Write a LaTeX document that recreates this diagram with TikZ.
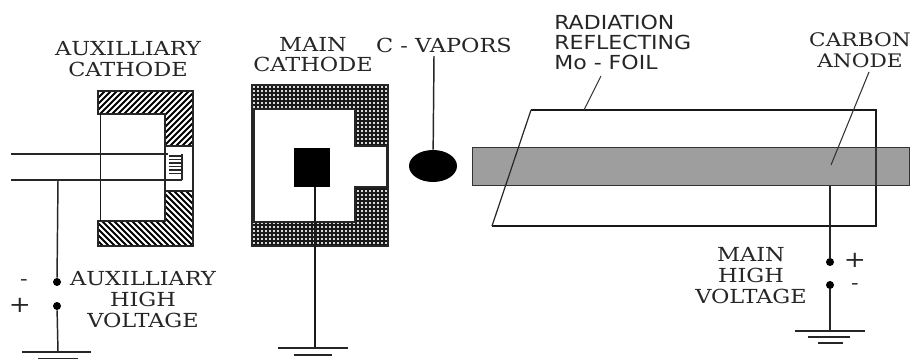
\documentclass[tikz,border=0pt]{standalone}
\usetikzlibrary{shapes.geometric}
\usepackage{fontspec}
\setmainfont[FakeStretch=1.16]{DejaVu Serif}
\newfontfamily\labelsans[FakeStretch=1.14]{DejaVu Sans}
\begin{document}
\begin{tikzpicture}[x=0.75pt,y=-0.75pt,
  wire/.style={line width=1.1pt,black!85},
  thinwire/.style={line width=0.8pt,black!80},
  lab/.style={font=\fontsize{14.5}{15.8}\selectfont,align=center,inner sep=0pt,text=black!85},
  sanslab/.style={font=\labelsans\fontsize{14.5}{15}\selectfont,align=left,inner sep=0pt,text=black!85},
  dot/.style={circle,fill=black,inner sep=0pt,minimum size=6pt}]
\useasboundingbox (0,0) rectangle (911,360);
\fill[white] (0,0) rectangle (911,360);
% auxiliary cathode hatch
\begin{scope}
\clip (98,91) -| (193,146) -| (165,114) -| (98,91) -- cycle;
\foreach \i in {40,46,...,200} \draw[line width=1.5pt] (\i,150) -- (\i+70,80);
\end{scope}
\begin{scope}
\clip (98,221) -| (165,191) -| (193,246) -| (98,221) -- cycle;
\foreach \i in {30,36,...,200} \draw[line width=1.5pt] (\i,185) -- (\i+65,250);
\end{scope}
\draw[wire] (98,91) -| (193,246) -| (98,221) -| (165,114) -| (98,91) -- cycle;
\draw[wire] (165,146) -- (193,146) (165,191) -- (193,191) (165,114) -- (165,221);
\draw[line width=1.4pt,black!90] (100.5,114) -- (100.5,221);
% filament
\foreach \y in {156,159.5,...,174} \draw[line width=1.1pt,black!85] (169,\y) -- (182,\y);
\draw[line width=1pt,black!85] (182,154) -- (182,180);
% auxiliary wires
\coordinate (w1a) at (11,154); \coordinate (w1b) at (168,154);
\coordinate (w2a) at (11,180); \coordinate (w2b) at (182,180);
\draw[wire] (w1a) -- (w1b) (w2a) -- (w2b);
\node[dot] (auxm) at (57,282) {};
\node[dot] (auxp) at (57,306) {};
\coordinate (auxtop) at (58,180);
\coordinate (auxgnd) at (58,352);
\draw[wire] (auxtop) -- (auxm);
\draw[wire] (auxp) -- (auxgnd);
\draw[wire] (22,352) -- (91,352);
\draw[wire] (38,358.5) -- (78,358.5);
\node[lab] (lminus) at (24,283) {-};
\node[lab,font=\fontsize{17}{17}\selectfont] (lplus) at (20,305) {+};
\node[lab] (auxlab) at (128,59) {AUXILLIARY\\CATHODE};
\node[lab] (auxhv) at (143,300) {AUXILLIARY\\HIGH\\VOLTAGE};
% main cathode
\fill[black!90] (252,85) rectangle (388,246);
\begin{scope}
\clip (252,85) rectangle (388,246);
\foreach \x in {254,258,...,386} \foreach \y in {87,91,...,245}
  \fill[white!85!black] (\x-0.8,\y-0.8) rectangle (\x+0.8,\y+0.8);
\end{scope}
\draw[wire] (252,85) rectangle (388,246);
\filldraw[fill=white,draw=black!85,line width=0.8pt] (254,109) rectangle (355,222);
\filldraw[fill=white,draw=black!85,line width=0.8pt] (355,146) rectangle (387,187);
\fill[white] (353,147) rectangle (356,186);
\fill[black] (294,148) rectangle (330,187);
\coordinate (mtop) at (315,187);
\coordinate (mgnd) at (315,348);
\draw[line width=1.3pt,black!90] (mtop) -- (mgnd);
\draw[wire] (278,348) -- (348,348);
\draw[wire] (294,355) -- (332,355);
\node[lab] (mainlab) at (313,45) {MAIN};
\node[lab] (mainlab2) at (313,64) {CATHODE};
% vapors
\node[ellipse,fill=black,inner sep=0pt,minimum width=36pt,minimum height=24pt] (vap) at (433,166) {};
\node[lab] (vaplab) at (444,45) {C - VAPORS};
\draw[wire] (434,56) -- (vap);
% anode
\node[draw=black!80,fill=black!38,line width=0.7pt,minimum width=328pt,minimum height=29pt,inner sep=0pt] (anode) at (691,166.5) {};
% foil
\draw[line width=1.4pt,black!90] (531,110) -- (876,110) -- (876,226) -- (492,226);
\draw[line width=0.9pt,black!80] (876,147) -- (876,186);
\draw[line width=0.9pt,black!85] (492,226) -- (531,110);
\coordinate (foilA) at (601,76); \coordinate (foilB) at (584,110);
\draw[thinwire] (foilA) -- (foilB);
\coordinate (cA) at (869,72); \coordinate (cB) at (831,165);
\draw[thinwire] (cA) -- (cB);
\node[sanslab,anchor=west] (radlab) at (554,42) {RADIATION\\REFLECTING\\Mo - FOIL};
\node[lab,font=\fontsize{14}{15.8}\selectfont] (carlab) at (860,50) {CARBON\\ANODE};
% main HV
\node[dot] (hvp) at (830,262) {};
\node[dot] (hvm) at (830,285) {};
\coordinate (atop) at (830,186);
\coordinate (agnd) at (830,331);
\draw[wire] (atop) -- (hvp);
\draw[wire] (hvm) -- (agnd);
\draw[wire] (795,331) -- (865,331);
\draw[wire] (808,337) -- (850,337);
\draw[wire] (818,343) -- (843,343);
\node[lab,font=\fontsize{17}{17}\selectfont] (hplus) at (855,260) {+};
\node[lab] (hminus) at (855,287) {-};
\node[lab] (hvlab) at (751,276) {MAIN\\HIGH\\VOLTAGE};
\end{tikzpicture}
\end{document}
